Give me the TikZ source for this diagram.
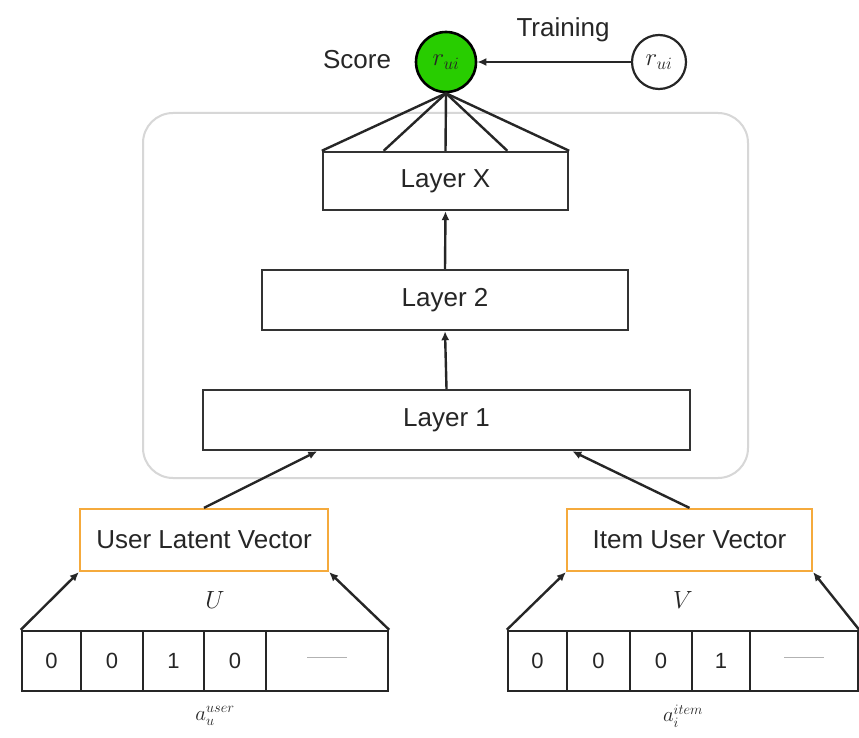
\documentclass[tikz,border=0pt]{standalone}
\usepackage{fontspec}
\setmainfont{Liberation Sans}
\usetikzlibrary{arrows.meta,calc}
\definecolor{scoregreen}{RGB}{40,205,0}
\definecolor{vecorange}{RGB}{245,170,60}
\definecolor{boxgray}{RGB}{215,215,215}
\begin{document}
\begin{tikzpicture}[x=1pt,y=-1pt,
  every node/.style={font=\fontsize{26}{30}\selectfont, text=black!85},
  layerbox/.style={draw=black!80, line width=2.4pt, inner sep=0pt},
  vecbox/.style={draw=vecorange, line width=2.2pt, inner sep=0pt, fill=white},
  cellbox/.style={draw=black!85, line width=2.4pt, inner sep=0pt, minimum height=60pt, font=\fontsize{22}{26}\selectfont},
  conn/.style={draw=black!85, line width=2.4pt},
  arr/.style={conn, -{Latex[length=9pt,width=8pt]}},
  lbl/.style={inner sep=0pt}
]
\useasboundingbox (0,0) rectangle (859,738);
\fill[white] (0,0) rectangle (859,738);

% container
\node[draw=boxgray, line width=2pt, rounded corners=30pt, minimum width=605pt, minimum height=365pt, inner sep=0pt] (cont) at (445.5,295.5) {};

% top nodes
\node[circle, draw=black, line width=2.6pt, fill=scoregreen, minimum size=60pt, inner sep=0pt] (score) at (446,62) {$r_{ui}$};
\node[circle, draw=black!85, line width=2.2pt, fill=white, minimum size=54pt, inner sep=0pt] (rui) at (659,62) {$r_{ui}$};
\node[lbl] (scorelbl) at (357,60) {Score};
\node[lbl] (trainlbl) at (563,30) {Training};

% layers
\node[layerbox, minimum width=245pt, minimum height=58pt] (lx) at (445.5,181) {Layer X};
\node[layerbox, minimum width=366pt, minimum height=60pt] (l2) at (445,300) {Layer 2};
\node[layerbox, minimum width=487pt, minimum height=60pt] (l1) at (446.5,420) {Layer 1};

% latent vectors
\node[vecbox, minimum width=248pt, minimum height=62pt] (ulv) at (204,540) {User Latent Vector};
\node[vecbox, minimum width=245pt, minimum height=62pt] (iuv) at (689.5,540) {Item User Vector};

% left one-hot cells
\node[cellbox, minimum width=59pt] (u1) at (51.5,661) {0};
\node[cellbox, minimum width=62pt] (u2) at (112,661) {0};
\node[cellbox, minimum width=61pt] (u3) at (173.5,661) {1};
\node[cellbox, minimum width=62pt] (u4) at (235,661) {0};
\node[cellbox, minimum width=122pt] (u5) at (327,661) {\textcolor{black!30}{\rule[0.3em]{40pt}{1pt}}};

% right one-hot cells
\node[cellbox, minimum width=59pt] (v1) at (537.5,661) {0};
\node[cellbox, minimum width=63pt] (v2) at (598.5,661) {0};
\node[cellbox, minimum width=62pt] (v3) at (661,661) {0};
\node[cellbox, minimum width=58pt] (v4) at (721,661) {1};
\node[cellbox, minimum width=108pt] (v5) at (804,661) {\textcolor{black!30}{\rule[0.3em]{40pt}{1pt}}};

% U, V labels
\node[lbl, font=\fontsize{32}{36}\selectfont] (ulab) at (215,600) {$U$};
\node[lbl, font=\fontsize{32}{36}\selectfont] (vlab) at (683,600) {$V$};
\node[lbl, font=\fontsize{22}{26}\selectfont] (au) at (215,716) {$a_{u}^{user}$};
\node[lbl, font=\fontsize{22}{26}\selectfont] (ai) at (683,716) {$a_{i}^{item}$};

% connectors
\draw[arr] (rui.west) -- (score.east);
\foreach \f in {0,0.25,0.5,0.75,1}{
  \draw[conn] (score.south) -- ($(lx.north west)!\f!(lx.north east)$);
}
\draw[arr] (l2.north) -- (lx.south);
\draw[arr] (l1.north) -- (l2.south);
\coordinate (l1a) at ($(l1.south west)!0.236!(l1.south east)$);
\coordinate (l1b) at ($(l1.south west)!0.757!(l1.south east)$);
\draw[arr] (ulv.north) -- (l1a);
\draw[arr] (iuv.north) -- (l1b);
\draw[arr] (u1.north west) -- (ulv.south west);
\draw[arr] (u5.north east) -- (ulv.south east);
\draw[arr] (v1.north west) -- (iuv.south west);
\draw[arr] (v5.north east) -- (iuv.south east);
\end{tikzpicture}
\end{document}
